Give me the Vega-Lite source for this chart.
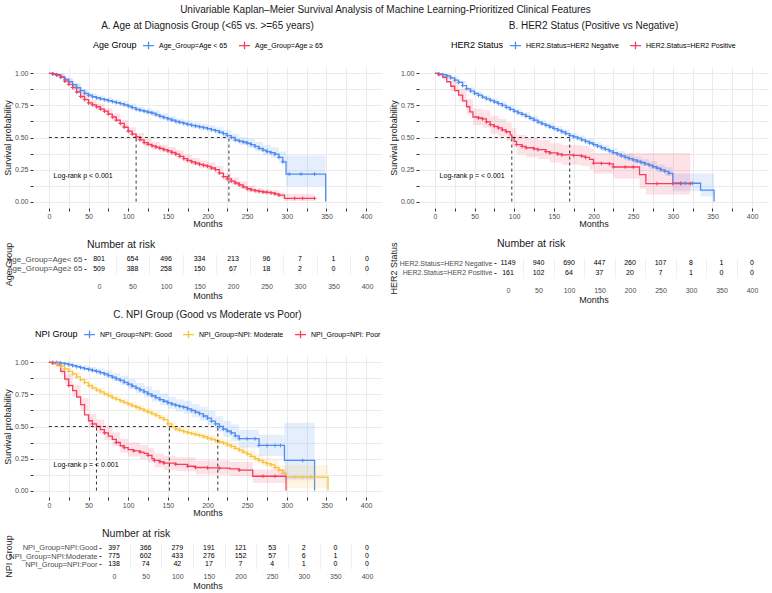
{
"$schema": "https://vega.github.io/schema/vega-lite/v6.json",
"padding": {"left": 3, "right": 2, "top": 5, "bottom": 2},
"title": {"text": "Univariable Kaplan–Meier Survival Analysis of Machine Learning-Prioritized Clinical Features", "fontSize": 10, "anchor": "middle", "offset": 6},
"datasets": {
"lineA": [
{"g":"Age_Group=Age < 65","t":0,"s":1,"c":0},{"g":"Age_Group=Age < 65","t":5,"s":0.995,"c":1},{"g":"Age_Group=Age < 65","t":10,"s":0.985,"c":1},{"g":"Age_Group=Age < 65","t":15,"s":0.972,"c":1},{"g":"Age_Group=Age < 65","t":20,"s":0.955,"c":1},{"g":"Age_Group=Age < 65","t":25,"s":0.935,"c":1},{"g":"Age_Group=Age < 65","t":30,"s":0.912,"c":1},{"g":"Age_Group=Age < 65","t":35,"s":0.888,"c":1},{"g":"Age_Group=Age < 65","t":40,"s":0.865,"c":1},{"g":"Age_Group=Age < 65","t":45,"s":0.845,"c":1},{"g":"Age_Group=Age < 65","t":50,"s":0.83,"c":1},{"g":"Age_Group=Age < 65","t":55,"s":0.818,"c":1},{"g":"Age_Group=Age < 65","t":60,"s":0.81,"c":1},{"g":"Age_Group=Age < 65","t":65,"s":0.802,"c":1},{"g":"Age_Group=Age < 65","t":70,"s":0.795,"c":1},{"g":"Age_Group=Age < 65","t":75,"s":0.787,"c":1},{"g":"Age_Group=Age < 65","t":80,"s":0.78,"c":1},{"g":"Age_Group=Age < 65","t":85,"s":0.772,"c":1},{"g":"Age_Group=Age < 65","t":90,"s":0.765,"c":1},{"g":"Age_Group=Age < 65","t":95,"s":0.755,"c":1},{"g":"Age_Group=Age < 65","t":100,"s":0.745,"c":1},{"g":"Age_Group=Age < 65","t":105,"s":0.733,"c":1},{"g":"Age_Group=Age < 65","t":110,"s":0.72,"c":1},{"g":"Age_Group=Age < 65","t":115,"s":0.712,"c":1},{"g":"Age_Group=Age < 65","t":120,"s":0.705,"c":1},{"g":"Age_Group=Age < 65","t":125,"s":0.697,"c":1},{"g":"Age_Group=Age < 65","t":130,"s":0.69,"c":1},{"g":"Age_Group=Age < 65","t":135,"s":0.677,"c":1},{"g":"Age_Group=Age < 65","t":140,"s":0.665,"c":1},{"g":"Age_Group=Age < 65","t":145,"s":0.655,"c":1},{"g":"Age_Group=Age < 65","t":150,"s":0.645,"c":1},{"g":"Age_Group=Age < 65","t":155,"s":0.635,"c":1},{"g":"Age_Group=Age < 65","t":160,"s":0.625,"c":1},{"g":"Age_Group=Age < 65","t":165,"s":0.618,"c":1},{"g":"Age_Group=Age < 65","t":170,"s":0.61,"c":1},{"g":"Age_Group=Age < 65","t":175,"s":0.602,"c":1},{"g":"Age_Group=Age < 65","t":180,"s":0.595,"c":1},{"g":"Age_Group=Age < 65","t":185,"s":0.589,"c":1},{"g":"Age_Group=Age < 65","t":190,"s":0.583,"c":1},{"g":"Age_Group=Age < 65","t":195,"s":0.577,"c":1},{"g":"Age_Group=Age < 65","t":200,"s":0.57,"c":1},{"g":"Age_Group=Age < 65","t":205,"s":0.562,"c":1},{"g":"Age_Group=Age < 65","t":210,"s":0.553,"c":1},{"g":"Age_Group=Age < 65","t":215,"s":0.542,"c":1},{"g":"Age_Group=Age < 65","t":220,"s":0.53,"c":1},{"g":"Age_Group=Age < 65","t":225,"s":0.515,"c":1},{"g":"Age_Group=Age < 65","t":230,"s":0.5,"c":1},{"g":"Age_Group=Age < 65","t":235,"s":0.48,"c":1},{"g":"Age_Group=Age < 65","t":240,"s":0.472,"c":1},{"g":"Age_Group=Age < 65","t":245,"s":0.465,"c":1},{"g":"Age_Group=Age < 65","t":250,"s":0.455,"c":1},{"g":"Age_Group=Age < 65","t":255,"s":0.445,"c":1},{"g":"Age_Group=Age < 65","t":260,"s":0.43,"c":1},{"g":"Age_Group=Age < 65","t":265,"s":0.415,"c":1},{"g":"Age_Group=Age < 65","t":270,"s":0.402,"c":1},{"g":"Age_Group=Age < 65","t":275,"s":0.39,"c":1},{"g":"Age_Group=Age < 65","t":280,"s":0.382,"c":1},{"g":"Age_Group=Age < 65","t":285,"s":0.37,"c":1},{"g":"Age_Group=Age < 65","t":290,"s":0.345,"c":1},{"g":"Age_Group=Age < 65","t":295,"s":0.31,"c":1},{"g":"Age_Group=Age < 65","t":299,"s":0.215,"c":0},{"g":"Age_Group=Age < 65","t":303,"s":0.215,"c":1},{"g":"Age_Group=Age < 65","t":318,"s":0.215,"c":1},{"g":"Age_Group=Age < 65","t":335,"s":0.215,"c":1},{"g":"Age_Group=Age < 65","t":349,"s":0,"c":0},
{"g":"Age_Group=Age ≥ 65","t":0,"s":1,"c":0},{"g":"Age_Group=Age ≥ 65","t":5,"s":0.997,"c":1},{"g":"Age_Group=Age ≥ 65","t":10,"s":0.99,"c":1},{"g":"Age_Group=Age ≥ 65","t":15,"s":0.97,"c":1},{"g":"Age_Group=Age ≥ 65","t":20,"s":0.94,"c":1},{"g":"Age_Group=Age ≥ 65","t":25,"s":0.915,"c":1},{"g":"Age_Group=Age ≥ 65","t":30,"s":0.89,"c":1},{"g":"Age_Group=Age ≥ 65","t":35,"s":0.855,"c":1},{"g":"Age_Group=Age ≥ 65","t":40,"s":0.82,"c":1},{"g":"Age_Group=Age ≥ 65","t":45,"s":0.795,"c":1},{"g":"Age_Group=Age ≥ 65","t":50,"s":0.77,"c":1},{"g":"Age_Group=Age ≥ 65","t":55,"s":0.755,"c":1},{"g":"Age_Group=Age ≥ 65","t":60,"s":0.74,"c":1},{"g":"Age_Group=Age ≥ 65","t":65,"s":0.722,"c":1},{"g":"Age_Group=Age ≥ 65","t":70,"s":0.705,"c":1},{"g":"Age_Group=Age ≥ 65","t":75,"s":0.683,"c":1},{"g":"Age_Group=Age ≥ 65","t":80,"s":0.66,"c":1},{"g":"Age_Group=Age ≥ 65","t":85,"s":0.635,"c":1},{"g":"Age_Group=Age ≥ 65","t":90,"s":0.61,"c":1},{"g":"Age_Group=Age ≥ 65","t":95,"s":0.58,"c":1},{"g":"Age_Group=Age ≥ 65","t":100,"s":0.55,"c":1},{"g":"Age_Group=Age ≥ 65","t":105,"s":0.527,"c":1},{"g":"Age_Group=Age ≥ 65","t":110,"s":0.505,"c":1},{"g":"Age_Group=Age ≥ 65","t":115,"s":0.482,"c":1},{"g":"Age_Group=Age ≥ 65","t":120,"s":0.46,"c":1},{"g":"Age_Group=Age ≥ 65","t":125,"s":0.447,"c":1},{"g":"Age_Group=Age ≥ 65","t":130,"s":0.435,"c":1},{"g":"Age_Group=Age ≥ 65","t":135,"s":0.425,"c":1},{"g":"Age_Group=Age ≥ 65","t":140,"s":0.415,"c":1},{"g":"Age_Group=Age ≥ 65","t":145,"s":0.405,"c":1},{"g":"Age_Group=Age ≥ 65","t":150,"s":0.395,"c":1},{"g":"Age_Group=Age ≥ 65","t":155,"s":0.383,"c":1},{"g":"Age_Group=Age ≥ 65","t":160,"s":0.37,"c":1},{"g":"Age_Group=Age ≥ 65","t":165,"s":0.352,"c":1},{"g":"Age_Group=Age ≥ 65","t":170,"s":0.335,"c":1},{"g":"Age_Group=Age ≥ 65","t":175,"s":0.322,"c":1},{"g":"Age_Group=Age ≥ 65","t":180,"s":0.31,"c":1},{"g":"Age_Group=Age ≥ 65","t":185,"s":0.3,"c":1},{"g":"Age_Group=Age ≥ 65","t":190,"s":0.29,"c":1},{"g":"Age_Group=Age ≥ 65","t":195,"s":0.283,"c":1},{"g":"Age_Group=Age ≥ 65","t":200,"s":0.275,"c":1},{"g":"Age_Group=Age ≥ 65","t":205,"s":0.262,"c":1},{"g":"Age_Group=Age ≥ 65","t":210,"s":0.25,"c":1},{"g":"Age_Group=Age ≥ 65","t":215,"s":0.222,"c":1},{"g":"Age_Group=Age ≥ 65","t":220,"s":0.195,"c":1},{"g":"Age_Group=Age ≥ 65","t":225,"s":0.177,"c":1},{"g":"Age_Group=Age ≥ 65","t":230,"s":0.16,"c":1},{"g":"Age_Group=Age ≥ 65","t":235,"s":0.145,"c":1},{"g":"Age_Group=Age ≥ 65","t":240,"s":0.13,"c":1},{"g":"Age_Group=Age ≥ 65","t":245,"s":0.115,"c":1},{"g":"Age_Group=Age ≥ 65","t":250,"s":0.1,"c":1},{"g":"Age_Group=Age ≥ 65","t":255,"s":0.092,"c":1},{"g":"Age_Group=Age ≥ 65","t":260,"s":0.085,"c":1},{"g":"Age_Group=Age ≥ 65","t":265,"s":0.08,"c":1},{"g":"Age_Group=Age ≥ 65","t":270,"s":0.075,"c":1},{"g":"Age_Group=Age ≥ 65","t":275,"s":0.072,"c":1},{"g":"Age_Group=Age ≥ 65","t":280,"s":0.068,"c":1},{"g":"Age_Group=Age ≥ 65","t":285,"s":0.06,"c":1},{"g":"Age_Group=Age ≥ 65","t":290,"s":0.05,"c":1},{"g":"Age_Group=Age ≥ 65","t":297,"s":0.025,"c":0},{"g":"Age_Group=Age ≥ 65","t":310,"s":0.025,"c":1},{"g":"Age_Group=Age ≥ 65","t":320,"s":0.025,"c":1},{"g":"Age_Group=Age ≥ 65","t":335,"s":0.025,"c":1}
],
"bandA": [
{"g":"Age_Group=Age < 65","t":0,"lo":1,"hi":1},{"g":"Age_Group=Age < 65","t":10,"lo":0.977,"hi":0.993},{"g":"Age_Group=Age < 65","t":20,"lo":0.943,"hi":0.967},{"g":"Age_Group=Age < 65","t":30,"lo":0.897,"hi":0.927},{"g":"Age_Group=Age < 65","t":40,"lo":0.843,"hi":0.877},{"g":"Age_Group=Age < 65","t":50,"lo":0.812,"hi":0.848},{"g":"Age_Group=Age < 65","t":60,"lo":0.792,"hi":0.828},{"g":"Age_Group=Age < 65","t":70,"lo":0.776,"hi":0.814},{"g":"Age_Group=Age < 65","t":80,"lo":0.761,"hi":0.799},{"g":"Age_Group=Age < 65","t":90,"lo":0.745,"hi":0.785},{"g":"Age_Group=Age < 65","t":100,"lo":0.725,"hi":0.765},{"g":"Age_Group=Age < 65","t":110,"lo":0.699,"hi":0.741},{"g":"Age_Group=Age < 65","t":120,"lo":0.684,"hi":0.726},{"g":"Age_Group=Age < 65","t":130,"lo":0.668,"hi":0.712},{"g":"Age_Group=Age < 65","t":140,"lo":0.643,"hi":0.687},{"g":"Age_Group=Age < 65","t":150,"lo":0.622,"hi":0.668},{"g":"Age_Group=Age < 65","t":160,"lo":0.602,"hi":0.648},{"g":"Age_Group=Age < 65","t":170,"lo":0.586,"hi":0.634},{"g":"Age_Group=Age < 65","t":180,"lo":0.571,"hi":0.619},{"g":"Age_Group=Age < 65","t":190,"lo":0.558,"hi":0.608},{"g":"Age_Group=Age < 65","t":200,"lo":0.544,"hi":0.596},{"g":"Age_Group=Age < 65","t":210,"lo":0.526,"hi":0.58},{"g":"Age_Group=Age < 65","t":220,"lo":0.502,"hi":0.558},{"g":"Age_Group=Age < 65","t":230,"lo":0.47,"hi":0.53},{"g":"Age_Group=Age < 65","t":240,"lo":0.441,"hi":0.503},{"g":"Age_Group=Age < 65","t":250,"lo":0.42,"hi":0.49},{"g":"Age_Group=Age < 65","t":260,"lo":0.393,"hi":0.467},{"g":"Age_Group=Age < 65","t":270,"lo":0.362,"hi":0.442},{"g":"Age_Group=Age < 65","t":280,"lo":0.34,"hi":0.424},{"g":"Age_Group=Age < 65","t":290,"lo":0.3,"hi":0.39},{"g":"Age_Group=Age < 65","t":299,"lo":0.12,"hi":0.36},{"g":"Age_Group=Age < 65","t":349,"lo":0,"hi":0},
{"g":"Age_Group=Age ≥ 65","t":0,"lo":1,"hi":1},{"g":"Age_Group=Age ≥ 65","t":10,"lo":0.98,"hi":1},{"g":"Age_Group=Age ≥ 65","t":20,"lo":0.925,"hi":0.955},{"g":"Age_Group=Age ≥ 65","t":30,"lo":0.87,"hi":0.91},{"g":"Age_Group=Age ≥ 65","t":40,"lo":0.798,"hi":0.842},{"g":"Age_Group=Age ≥ 65","t":50,"lo":0.746,"hi":0.794},{"g":"Age_Group=Age ≥ 65","t":60,"lo":0.715,"hi":0.765},{"g":"Age_Group=Age ≥ 65","t":70,"lo":0.679,"hi":0.731},{"g":"Age_Group=Age ≥ 65","t":80,"lo":0.633,"hi":0.687},{"g":"Age_Group=Age ≥ 65","t":90,"lo":0.582,"hi":0.638},{"g":"Age_Group=Age ≥ 65","t":100,"lo":0.521,"hi":0.579},{"g":"Age_Group=Age ≥ 65","t":110,"lo":0.475,"hi":0.535},{"g":"Age_Group=Age ≥ 65","t":120,"lo":0.43,"hi":0.49},{"g":"Age_Group=Age ≥ 65","t":130,"lo":0.405,"hi":0.465},{"g":"Age_Group=Age ≥ 65","t":140,"lo":0.385,"hi":0.445},{"g":"Age_Group=Age ≥ 65","t":150,"lo":0.365,"hi":0.425},{"g":"Age_Group=Age ≥ 65","t":160,"lo":0.34,"hi":0.4},{"g":"Age_Group=Age ≥ 65","t":170,"lo":0.305,"hi":0.365},{"g":"Age_Group=Age ≥ 65","t":180,"lo":0.28,"hi":0.34},{"g":"Age_Group=Age ≥ 65","t":190,"lo":0.26,"hi":0.32},{"g":"Age_Group=Age ≥ 65","t":200,"lo":0.245,"hi":0.305},{"g":"Age_Group=Age ≥ 65","t":210,"lo":0.22,"hi":0.28},{"g":"Age_Group=Age ≥ 65","t":220,"lo":0.165,"hi":0.225},{"g":"Age_Group=Age ≥ 65","t":230,"lo":0.132,"hi":0.188},{"g":"Age_Group=Age ≥ 65","t":240,"lo":0.103,"hi":0.157},{"g":"Age_Group=Age ≥ 65","t":250,"lo":0.075,"hi":0.125},{"g":"Age_Group=Age ≥ 65","t":260,"lo":0.063,"hi":0.107},{"g":"Age_Group=Age ≥ 65","t":270,"lo":0.055,"hi":0.095},{"g":"Age_Group=Age ≥ 65","t":280,"lo":0.048,"hi":0.088},{"g":"Age_Group=Age ≥ 65","t":290,"lo":0.03,"hi":0.07},{"g":"Age_Group=Age ≥ 65","t":297,"lo":0.005,"hi":0.06},{"g":"Age_Group=Age ≥ 65","t":335,"lo":0.005,"hi":0.06}
],
"medA": [{"t":0,"t2":227,"s":0.5,"s2":0.5},{"t":110,"t2":110,"s":0,"s2":0.5},{"t":227,"t2":227,"s":0,"s2":0.5}],
"lineB": [
{"g":"HER2.Status=HER2 Negative","t":0,"s":1,"c":0},{"g":"HER2.Status=HER2 Negative","t":5,"s":0.997,"c":1},{"g":"HER2.Status=HER2 Negative","t":10,"s":0.99,"c":1},{"g":"HER2.Status=HER2 Negative","t":15,"s":0.98,"c":1},{"g":"HER2.Status=HER2 Negative","t":20,"s":0.965,"c":1},{"g":"HER2.Status=HER2 Negative","t":25,"s":0.948,"c":1},{"g":"HER2.Status=HER2 Negative","t":30,"s":0.93,"c":1},{"g":"HER2.Status=HER2 Negative","t":35,"s":0.905,"c":1},{"g":"HER2.Status=HER2 Negative","t":40,"s":0.88,"c":1},{"g":"HER2.Status=HER2 Negative","t":45,"s":0.862,"c":1},{"g":"HER2.Status=HER2 Negative","t":50,"s":0.845,"c":1},{"g":"HER2.Status=HER2 Negative","t":55,"s":0.83,"c":1},{"g":"HER2.Status=HER2 Negative","t":60,"s":0.815,"c":1},{"g":"HER2.Status=HER2 Negative","t":65,"s":0.802,"c":1},{"g":"HER2.Status=HER2 Negative","t":70,"s":0.79,"c":1},{"g":"HER2.Status=HER2 Negative","t":75,"s":0.777,"c":1},{"g":"HER2.Status=HER2 Negative","t":80,"s":0.765,"c":1},{"g":"HER2.Status=HER2 Negative","t":85,"s":0.75,"c":1},{"g":"HER2.Status=HER2 Negative","t":90,"s":0.735,"c":1},{"g":"HER2.Status=HER2 Negative","t":95,"s":0.72,"c":1},{"g":"HER2.Status=HER2 Negative","t":100,"s":0.705,"c":1},{"g":"HER2.Status=HER2 Negative","t":105,"s":0.692,"c":1},{"g":"HER2.Status=HER2 Negative","t":110,"s":0.68,"c":1},{"g":"HER2.Status=HER2 Negative","t":115,"s":0.665,"c":1},{"g":"HER2.Status=HER2 Negative","t":120,"s":0.65,"c":1},{"g":"HER2.Status=HER2 Negative","t":125,"s":0.635,"c":1},{"g":"HER2.Status=HER2 Negative","t":130,"s":0.62,"c":1},{"g":"HER2.Status=HER2 Negative","t":135,"s":0.607,"c":1},{"g":"HER2.Status=HER2 Negative","t":140,"s":0.595,"c":1},{"g":"HER2.Status=HER2 Negative","t":145,"s":0.582,"c":1},{"g":"HER2.Status=HER2 Negative","t":150,"s":0.57,"c":1},{"g":"HER2.Status=HER2 Negative","t":155,"s":0.557,"c":1},{"g":"HER2.Status=HER2 Negative","t":160,"s":0.545,"c":1},{"g":"HER2.Status=HER2 Negative","t":165,"s":0.53,"c":1},{"g":"HER2.Status=HER2 Negative","t":170,"s":0.515,"c":1},{"g":"HER2.Status=HER2 Negative","t":175,"s":0.505,"c":1},{"g":"HER2.Status=HER2 Negative","t":180,"s":0.495,"c":1},{"g":"HER2.Status=HER2 Negative","t":185,"s":0.482,"c":1},{"g":"HER2.Status=HER2 Negative","t":190,"s":0.47,"c":1},{"g":"HER2.Status=HER2 Negative","t":195,"s":0.457,"c":1},{"g":"HER2.Status=HER2 Negative","t":200,"s":0.445,"c":1},{"g":"HER2.Status=HER2 Negative","t":205,"s":0.432,"c":1},{"g":"HER2.Status=HER2 Negative","t":210,"s":0.42,"c":1},{"g":"HER2.Status=HER2 Negative","t":215,"s":0.407,"c":1},{"g":"HER2.Status=HER2 Negative","t":220,"s":0.395,"c":1},{"g":"HER2.Status=HER2 Negative","t":225,"s":0.382,"c":1},{"g":"HER2.Status=HER2 Negative","t":230,"s":0.37,"c":1},{"g":"HER2.Status=HER2 Negative","t":235,"s":0.357,"c":1},{"g":"HER2.Status=HER2 Negative","t":240,"s":0.345,"c":1},{"g":"HER2.Status=HER2 Negative","t":245,"s":0.335,"c":1},{"g":"HER2.Status=HER2 Negative","t":250,"s":0.325,"c":1},{"g":"HER2.Status=HER2 Negative","t":255,"s":0.315,"c":1},{"g":"HER2.Status=HER2 Negative","t":260,"s":0.305,"c":1},{"g":"HER2.Status=HER2 Negative","t":265,"s":0.295,"c":1},{"g":"HER2.Status=HER2 Negative","t":270,"s":0.285,"c":1},{"g":"HER2.Status=HER2 Negative","t":275,"s":0.272,"c":1},{"g":"HER2.Status=HER2 Negative","t":280,"s":0.26,"c":1},{"g":"HER2.Status=HER2 Negative","t":285,"s":0.247,"c":1},{"g":"HER2.Status=HER2 Negative","t":290,"s":0.235,"c":1},{"g":"HER2.Status=HER2 Negative","t":295,"s":0.22,"c":1},{"g":"HER2.Status=HER2 Negative","t":300,"s":0.145,"c":0},{"g":"HER2.Status=HER2 Negative","t":310,"s":0.143,"c":1},{"g":"HER2.Status=HER2 Negative","t":316,"s":0.143,"c":1},{"g":"HER2.Status=HER2 Negative","t":325,"s":0.143,"c":1},{"g":"HER2.Status=HER2 Negative","t":335,"s":0.09,"c":0},{"g":"HER2.Status=HER2 Negative","t":352,"s":0,"c":0},
{"g":"HER2.Status=HER2 Positive","t":0,"s":1,"c":0},{"g":"HER2.Status=HER2 Positive","t":5,"s":0.99,"c":1},{"g":"HER2.Status=HER2 Positive","t":10,"s":0.97,"c":0},{"g":"HER2.Status=HER2 Positive","t":15,"s":0.935,"c":0},{"g":"HER2.Status=HER2 Positive","t":20,"s":0.9,"c":0},{"g":"HER2.Status=HER2 Positive","t":25,"s":0.865,"c":0},{"g":"HER2.Status=HER2 Positive","t":30,"s":0.83,"c":0},{"g":"HER2.Status=HER2 Positive","t":35,"s":0.785,"c":0},{"g":"HER2.Status=HER2 Positive","t":40,"s":0.74,"c":0},{"g":"HER2.Status=HER2 Positive","t":44,"s":0.7,"c":0},{"g":"HER2.Status=HER2 Positive","t":48,"s":0.66,"c":0},{"g":"HER2.Status=HER2 Positive","t":55,"s":0.652,"c":1},{"g":"HER2.Status=HER2 Positive","t":60,"s":0.645,"c":1},{"g":"HER2.Status=HER2 Positive","t":65,"s":0.622,"c":1},{"g":"HER2.Status=HER2 Positive","t":70,"s":0.6,"c":1},{"g":"HER2.Status=HER2 Positive","t":75,"s":0.587,"c":1},{"g":"HER2.Status=HER2 Positive","t":80,"s":0.575,"c":1},{"g":"HER2.Status=HER2 Positive","t":85,"s":0.56,"c":1},{"g":"HER2.Status=HER2 Positive","t":90,"s":0.545,"c":1},{"g":"HER2.Status=HER2 Positive","t":95,"s":0.52,"c":0},{"g":"HER2.Status=HER2 Positive","t":97,"s":0.5,"c":0},{"g":"HER2.Status=HER2 Positive","t":100,"s":0.47,"c":0},{"g":"HER2.Status=HER2 Positive","t":103,"s":0.445,"c":1},{"g":"HER2.Status=HER2 Positive","t":110,"s":0.43,"c":1},{"g":"HER2.Status=HER2 Positive","t":115,"s":0.42,"c":1},{"g":"HER2.Status=HER2 Positive","t":125,"s":0.412,"c":1},{"g":"HER2.Status=HER2 Positive","t":130,"s":0.405,"c":1},{"g":"HER2.Status=HER2 Positive","t":140,"s":0.39,"c":1},{"g":"HER2.Status=HER2 Positive","t":145,"s":0.38,"c":1},{"g":"HER2.Status=HER2 Positive","t":155,"s":0.37,"c":1},{"g":"HER2.Status=HER2 Positive","t":160,"s":0.365,"c":1},{"g":"HER2.Status=HER2 Positive","t":175,"s":0.36,"c":1},{"g":"HER2.Status=HER2 Positive","t":185,"s":0.355,"c":1},{"g":"HER2.Status=HER2 Positive","t":190,"s":0.345,"c":1},{"g":"HER2.Status=HER2 Positive","t":195,"s":0.33,"c":0},{"g":"HER2.Status=HER2 Positive","t":200,"s":0.3,"c":1},{"g":"HER2.Status=HER2 Positive","t":210,"s":0.298,"c":1},{"g":"HER2.Status=HER2 Positive","t":220,"s":0.295,"c":1},{"g":"HER2.Status=HER2 Positive","t":225,"s":0.27,"c":1},{"g":"HER2.Status=HER2 Positive","t":240,"s":0.27,"c":1},{"g":"HER2.Status=HER2 Positive","t":250,"s":0.27,"c":1},{"g":"HER2.Status=HER2 Positive","t":258,"s":0.21,"c":0},{"g":"HER2.Status=HER2 Positive","t":266,"s":0.14,"c":0},{"g":"HER2.Status=HER2 Positive","t":280,"s":0.14,"c":1},{"g":"HER2.Status=HER2 Positive","t":300,"s":0.14,"c":1},{"g":"HER2.Status=HER2 Positive","t":310,"s":0.14,"c":1},{"g":"HER2.Status=HER2 Positive","t":322,"s":0.14,"c":1}
],
"bandB": [
{"g":"HER2.Status=HER2 Negative","t":0,"lo":1,"hi":1},{"g":"HER2.Status=HER2 Negative","t":10,"lo":0.985,"hi":0.995},{"g":"HER2.Status=HER2 Negative","t":20,"lo":0.957,"hi":0.973},{"g":"HER2.Status=HER2 Negative","t":30,"lo":0.92,"hi":0.94},{"g":"HER2.Status=HER2 Negative","t":40,"lo":0.868,"hi":0.892},{"g":"HER2.Status=HER2 Negative","t":50,"lo":0.832,"hi":0.858},{"g":"HER2.Status=HER2 Negative","t":60,"lo":0.801,"hi":0.829},{"g":"HER2.Status=HER2 Negative","t":70,"lo":0.775,"hi":0.805},{"g":"HER2.Status=HER2 Negative","t":80,"lo":0.75,"hi":0.78},{"g":"HER2.Status=HER2 Negative","t":90,"lo":0.719,"hi":0.751},{"g":"HER2.Status=HER2 Negative","t":100,"lo":0.689,"hi":0.721},{"g":"HER2.Status=HER2 Negative","t":110,"lo":0.663,"hi":0.697},{"g":"HER2.Status=HER2 Negative","t":120,"lo":0.633,"hi":0.667},{"g":"HER2.Status=HER2 Negative","t":130,"lo":0.602,"hi":0.638},{"g":"HER2.Status=HER2 Negative","t":140,"lo":0.577,"hi":0.613},{"g":"HER2.Status=HER2 Negative","t":150,"lo":0.551,"hi":0.589},{"g":"HER2.Status=HER2 Negative","t":160,"lo":0.526,"hi":0.564},{"g":"HER2.Status=HER2 Negative","t":170,"lo":0.495,"hi":0.535},{"g":"HER2.Status=HER2 Negative","t":180,"lo":0.475,"hi":0.515},{"g":"HER2.Status=HER2 Negative","t":190,"lo":0.449,"hi":0.491},{"g":"HER2.Status=HER2 Negative","t":200,"lo":0.423,"hi":0.467},{"g":"HER2.Status=HER2 Negative","t":210,"lo":0.397,"hi":0.443},{"g":"HER2.Status=HER2 Negative","t":220,"lo":0.371,"hi":0.419},{"g":"HER2.Status=HER2 Negative","t":230,"lo":0.345,"hi":0.395},{"g":"HER2.Status=HER2 Negative","t":240,"lo":0.319,"hi":0.371},{"g":"HER2.Status=HER2 Negative","t":250,"lo":0.298,"hi":0.352},{"g":"HER2.Status=HER2 Negative","t":260,"lo":0.277,"hi":0.333},{"g":"HER2.Status=HER2 Negative","t":270,"lo":0.255,"hi":0.315},{"g":"HER2.Status=HER2 Negative","t":280,"lo":0.228,"hi":0.292},{"g":"HER2.Status=HER2 Negative","t":290,"lo":0.2,"hi":0.27},{"g":"HER2.Status=HER2 Negative","t":300,"lo":0.08,"hi":0.22},{"g":"HER2.Status=HER2 Negative","t":335,"lo":0.04,"hi":0.22},{"g":"HER2.Status=HER2 Negative","t":352,"lo":0,"hi":0},
{"g":"HER2.Status=HER2 Positive","t":0,"lo":1,"hi":1},{"g":"HER2.Status=HER2 Positive","t":10,"lo":0.95,"hi":0.99},{"g":"HER2.Status=HER2 Positive","t":20,"lo":0.86,"hi":0.94},{"g":"HER2.Status=HER2 Positive","t":30,"lo":0.78,"hi":0.88},{"g":"HER2.Status=HER2 Positive","t":40,"lo":0.68,"hi":0.8},{"g":"HER2.Status=HER2 Positive","t":48,"lo":0.595,"hi":0.725},{"g":"HER2.Status=HER2 Positive","t":60,"lo":0.577,"hi":0.713},{"g":"HER2.Status=HER2 Positive","t":70,"lo":0.53,"hi":0.67},{"g":"HER2.Status=HER2 Positive","t":80,"lo":0.505,"hi":0.645},{"g":"HER2.Status=HER2 Positive","t":90,"lo":0.473,"hi":0.617},{"g":"HER2.Status=HER2 Positive","t":97,"lo":0.425,"hi":0.575},{"g":"HER2.Status=HER2 Positive","t":103,"lo":0.37,"hi":0.52},{"g":"HER2.Status=HER2 Positive","t":115,"lo":0.345,"hi":0.495},{"g":"HER2.Status=HER2 Positive","t":130,"lo":0.33,"hi":0.48},{"g":"HER2.Status=HER2 Positive","t":145,"lo":0.304,"hi":0.456},{"g":"HER2.Status=HER2 Positive","t":160,"lo":0.288,"hi":0.442},{"g":"HER2.Status=HER2 Positive","t":185,"lo":0.277,"hi":0.433},{"g":"HER2.Status=HER2 Positive","t":195,"lo":0.25,"hi":0.41},{"g":"HER2.Status=HER2 Positive","t":200,"lo":0.22,"hi":0.38},{"g":"HER2.Status=HER2 Positive","t":225,"lo":0.18,"hi":0.38},{"g":"HER2.Status=HER2 Positive","t":258,"lo":0.1,"hi":0.38},{"g":"HER2.Status=HER2 Positive","t":266,"lo":0.055,"hi":0.38},{"g":"HER2.Status=HER2 Positive","t":322,"lo":0.055,"hi":0.38}
],
"medB": [{"t":0,"t2":170,"s":0.5,"s2":0.5},{"t":97,"t2":97,"s":0,"s2":0.5},{"t":170,"t2":170,"s":0,"s2":0.5}],
"lineC": [
{"g":"NPI_Group=NPI: Good","t":0,"s":1,"c":0},{"g":"NPI_Group=NPI: Good","t":5,"s":1,"c":1},{"g":"NPI_Group=NPI: Good","t":10,"s":1,"c":1},{"g":"NPI_Group=NPI: Good","t":15,"s":0.995,"c":1},{"g":"NPI_Group=NPI: Good","t":20,"s":0.99,"c":1},{"g":"NPI_Group=NPI: Good","t":25,"s":0.982,"c":1},{"g":"NPI_Group=NPI: Good","t":30,"s":0.975,"c":1},{"g":"NPI_Group=NPI: Good","t":35,"s":0.967,"c":1},{"g":"NPI_Group=NPI: Good","t":40,"s":0.96,"c":1},{"g":"NPI_Group=NPI: Good","t":45,"s":0.952,"c":1},{"g":"NPI_Group=NPI: Good","t":50,"s":0.945,"c":1},{"g":"NPI_Group=NPI: Good","t":55,"s":0.937,"c":1},{"g":"NPI_Group=NPI: Good","t":60,"s":0.93,"c":1},{"g":"NPI_Group=NPI: Good","t":65,"s":0.92,"c":1},{"g":"NPI_Group=NPI: Good","t":70,"s":0.91,"c":1},{"g":"NPI_Group=NPI: Good","t":75,"s":0.897,"c":1},{"g":"NPI_Group=NPI: Good","t":80,"s":0.885,"c":1},{"g":"NPI_Group=NPI: Good","t":85,"s":0.872,"c":1},{"g":"NPI_Group=NPI: Good","t":90,"s":0.86,"c":1},{"g":"NPI_Group=NPI: Good","t":95,"s":0.845,"c":1},{"g":"NPI_Group=NPI: Good","t":100,"s":0.83,"c":1},{"g":"NPI_Group=NPI: Good","t":105,"s":0.815,"c":1},{"g":"NPI_Group=NPI: Good","t":110,"s":0.8,"c":1},{"g":"NPI_Group=NPI: Good","t":115,"s":0.785,"c":1},{"g":"NPI_Group=NPI: Good","t":120,"s":0.77,"c":1},{"g":"NPI_Group=NPI: Good","t":125,"s":0.755,"c":1},{"g":"NPI_Group=NPI: Good","t":130,"s":0.74,"c":1},{"g":"NPI_Group=NPI: Good","t":135,"s":0.725,"c":1},{"g":"NPI_Group=NPI: Good","t":140,"s":0.71,"c":1},{"g":"NPI_Group=NPI: Good","t":145,"s":0.697,"c":1},{"g":"NPI_Group=NPI: Good","t":150,"s":0.685,"c":1},{"g":"NPI_Group=NPI: Good","t":155,"s":0.675,"c":1},{"g":"NPI_Group=NPI: Good","t":160,"s":0.665,"c":1},{"g":"NPI_Group=NPI: Good","t":165,"s":0.657,"c":1},{"g":"NPI_Group=NPI: Good","t":170,"s":0.65,"c":1},{"g":"NPI_Group=NPI: Good","t":175,"s":0.637,"c":1},{"g":"NPI_Group=NPI: Good","t":180,"s":0.625,"c":1},{"g":"NPI_Group=NPI: Good","t":185,"s":0.612,"c":1},{"g":"NPI_Group=NPI: Good","t":190,"s":0.6,"c":1},{"g":"NPI_Group=NPI: Good","t":195,"s":0.582,"c":1},{"g":"NPI_Group=NPI: Good","t":200,"s":0.565,"c":1},{"g":"NPI_Group=NPI: Good","t":205,"s":0.542,"c":1},{"g":"NPI_Group=NPI: Good","t":210,"s":0.52,"c":1},{"g":"NPI_Group=NPI: Good","t":215,"s":0.5,"c":1},{"g":"NPI_Group=NPI: Good","t":220,"s":0.48,"c":1},{"g":"NPI_Group=NPI: Good","t":225,"s":0.465,"c":1},{"g":"NPI_Group=NPI: Good","t":230,"s":0.45,"c":1},{"g":"NPI_Group=NPI: Good","t":235,"s":0.427,"c":1},{"g":"NPI_Group=NPI: Good","t":240,"s":0.405,"c":1},{"g":"NPI_Group=NPI: Good","t":250,"s":0.405,"c":1},{"g":"NPI_Group=NPI: Good","t":260,"s":0.405,"c":1},{"g":"NPI_Group=NPI: Good","t":265,"s":0.352,"c":1},{"g":"NPI_Group=NPI: Good","t":275,"s":0.352,"c":1},{"g":"NPI_Group=NPI: Good","t":285,"s":0.352,"c":1},{"g":"NPI_Group=NPI: Good","t":292,"s":0.352,"c":1},{"g":"NPI_Group=NPI: Good","t":297,"s":0.235,"c":0},{"g":"NPI_Group=NPI: Good","t":320,"s":0.235,"c":1},{"g":"NPI_Group=NPI: Good","t":335,"s":0,"c":0},
{"g":"NPI_Group=NPI: Moderate","t":0,"s":1,"c":0},{"g":"NPI_Group=NPI: Moderate","t":5,"s":0.995,"c":1},{"g":"NPI_Group=NPI: Moderate","t":10,"s":0.985,"c":1},{"g":"NPI_Group=NPI: Moderate","t":15,"s":0.97,"c":1},{"g":"NPI_Group=NPI: Moderate","t":20,"s":0.95,"c":1},{"g":"NPI_Group=NPI: Moderate","t":25,"s":0.93,"c":1},{"g":"NPI_Group=NPI: Moderate","t":30,"s":0.91,"c":1},{"g":"NPI_Group=NPI: Moderate","t":35,"s":0.887,"c":1},{"g":"NPI_Group=NPI: Moderate","t":40,"s":0.865,"c":1},{"g":"NPI_Group=NPI: Moderate","t":45,"s":0.842,"c":1},{"g":"NPI_Group=NPI: Moderate","t":50,"s":0.82,"c":1},{"g":"NPI_Group=NPI: Moderate","t":55,"s":0.802,"c":1},{"g":"NPI_Group=NPI: Moderate","t":60,"s":0.785,"c":1},{"g":"NPI_Group=NPI: Moderate","t":65,"s":0.77,"c":1},{"g":"NPI_Group=NPI: Moderate","t":70,"s":0.755,"c":1},{"g":"NPI_Group=NPI: Moderate","t":75,"s":0.74,"c":1},{"g":"NPI_Group=NPI: Moderate","t":80,"s":0.725,"c":1},{"g":"NPI_Group=NPI: Moderate","t":85,"s":0.712,"c":1},{"g":"NPI_Group=NPI: Moderate","t":90,"s":0.7,"c":1},{"g":"NPI_Group=NPI: Moderate","t":95,"s":0.687,"c":1},{"g":"NPI_Group=NPI: Moderate","t":100,"s":0.675,"c":1},{"g":"NPI_Group=NPI: Moderate","t":105,"s":0.662,"c":1},{"g":"NPI_Group=NPI: Moderate","t":110,"s":0.65,"c":1},{"g":"NPI_Group=NPI: Moderate","t":115,"s":0.637,"c":1},{"g":"NPI_Group=NPI: Moderate","t":120,"s":0.625,"c":1},{"g":"NPI_Group=NPI: Moderate","t":125,"s":0.612,"c":1},{"g":"NPI_Group=NPI: Moderate","t":130,"s":0.6,"c":1},{"g":"NPI_Group=NPI: Moderate","t":135,"s":0.585,"c":1},{"g":"NPI_Group=NPI: Moderate","t":140,"s":0.57,"c":1},{"g":"NPI_Group=NPI: Moderate","t":145,"s":0.553,"c":1},{"g":"NPI_Group=NPI: Moderate","t":150,"s":0.52,"c":1},{"g":"NPI_Group=NPI: Moderate","t":155,"s":0.497,"c":1},{"g":"NPI_Group=NPI: Moderate","t":160,"s":0.48,"c":1},{"g":"NPI_Group=NPI: Moderate","t":165,"s":0.47,"c":1},{"g":"NPI_Group=NPI: Moderate","t":170,"s":0.46,"c":1},{"g":"NPI_Group=NPI: Moderate","t":175,"s":0.452,"c":1},{"g":"NPI_Group=NPI: Moderate","t":180,"s":0.445,"c":1},{"g":"NPI_Group=NPI: Moderate","t":185,"s":0.437,"c":1},{"g":"NPI_Group=NPI: Moderate","t":190,"s":0.43,"c":1},{"g":"NPI_Group=NPI: Moderate","t":195,"s":0.42,"c":1},{"g":"NPI_Group=NPI: Moderate","t":200,"s":0.41,"c":1},{"g":"NPI_Group=NPI: Moderate","t":205,"s":0.4,"c":1},{"g":"NPI_Group=NPI: Moderate","t":210,"s":0.39,"c":1},{"g":"NPI_Group=NPI: Moderate","t":215,"s":0.38,"c":1},{"g":"NPI_Group=NPI: Moderate","t":220,"s":0.37,"c":1},{"g":"NPI_Group=NPI: Moderate","t":225,"s":0.357,"c":1},{"g":"NPI_Group=NPI: Moderate","t":230,"s":0.345,"c":1},{"g":"NPI_Group=NPI: Moderate","t":235,"s":0.33,"c":1},{"g":"NPI_Group=NPI: Moderate","t":240,"s":0.315,"c":1},{"g":"NPI_Group=NPI: Moderate","t":245,"s":0.3,"c":1},{"g":"NPI_Group=NPI: Moderate","t":250,"s":0.285,"c":1},{"g":"NPI_Group=NPI: Moderate","t":255,"s":0.267,"c":1},{"g":"NPI_Group=NPI: Moderate","t":260,"s":0.25,"c":1},{"g":"NPI_Group=NPI: Moderate","t":265,"s":0.235,"c":1},{"g":"NPI_Group=NPI: Moderate","t":270,"s":0.22,"c":1},{"g":"NPI_Group=NPI: Moderate","t":275,"s":0.21,"c":1},{"g":"NPI_Group=NPI: Moderate","t":280,"s":0.2,"c":1},{"g":"NPI_Group=NPI: Moderate","t":285,"s":0.18,"c":1},{"g":"NPI_Group=NPI: Moderate","t":290,"s":0.16,"c":1},{"g":"NPI_Group=NPI: Moderate","t":295,"s":0.135,"c":1},{"g":"NPI_Group=NPI: Moderate","t":299,"s":0.105,"c":0},{"g":"NPI_Group=NPI: Moderate","t":310,"s":0.105,"c":1},{"g":"NPI_Group=NPI: Moderate","t":320,"s":0.105,"c":1},{"g":"NPI_Group=NPI: Moderate","t":330,"s":0.105,"c":1},{"g":"NPI_Group=NPI: Moderate","t":352,"s":0,"c":0},
{"g":"NPI_Group=NPI: Poor","t":0,"s":1,"c":0},{"g":"NPI_Group=NPI: Poor","t":5,"s":0.995,"c":1},{"g":"NPI_Group=NPI: Poor","t":10,"s":0.98,"c":0},{"g":"NPI_Group=NPI: Poor","t":15,"s":0.93,"c":0},{"g":"NPI_Group=NPI: Poor","t":20,"s":0.87,"c":0},{"g":"NPI_Group=NPI: Poor","t":25,"s":0.82,"c":1},{"g":"NPI_Group=NPI: Poor","t":30,"s":0.78,"c":0},{"g":"NPI_Group=NPI: Poor","t":35,"s":0.73,"c":0},{"g":"NPI_Group=NPI: Poor","t":40,"s":0.67,"c":0},{"g":"NPI_Group=NPI: Poor","t":45,"s":0.59,"c":0},{"g":"NPI_Group=NPI: Poor","t":50,"s":0.545,"c":0},{"g":"NPI_Group=NPI: Poor","t":55,"s":0.52,"c":1},{"g":"NPI_Group=NPI: Poor","t":60,"s":0.5,"c":0},{"g":"NPI_Group=NPI: Poor","t":65,"s":0.475,"c":0},{"g":"NPI_Group=NPI: Poor","t":70,"s":0.45,"c":1},{"g":"NPI_Group=NPI: Poor","t":75,"s":0.425,"c":0},{"g":"NPI_Group=NPI: Poor","t":80,"s":0.4,"c":0},{"g":"NPI_Group=NPI: Poor","t":85,"s":0.375,"c":1},{"g":"NPI_Group=NPI: Poor","t":90,"s":0.35,"c":0},{"g":"NPI_Group=NPI: Poor","t":95,"s":0.335,"c":1},{"g":"NPI_Group=NPI: Poor","t":100,"s":0.32,"c":0},{"g":"NPI_Group=NPI: Poor","t":107,"s":0.31,"c":1},{"g":"NPI_Group=NPI: Poor","t":115,"s":0.3,"c":1},{"g":"NPI_Group=NPI: Poor","t":120,"s":0.29,"c":0},{"g":"NPI_Group=NPI: Poor","t":125,"s":0.275,"c":1},{"g":"NPI_Group=NPI: Poor","t":130,"s":0.25,"c":0},{"g":"NPI_Group=NPI: Poor","t":133,"s":0.235,"c":1},{"g":"NPI_Group=NPI: Poor","t":140,"s":0.225,"c":1},{"g":"NPI_Group=NPI: Poor","t":145,"s":0.215,"c":1},{"g":"NPI_Group=NPI: Poor","t":160,"s":0.205,"c":1},{"g":"NPI_Group=NPI: Poor","t":175,"s":0.19,"c":1},{"g":"NPI_Group=NPI: Poor","t":185,"s":0.18,"c":1},{"g":"NPI_Group=NPI: Poor","t":200,"s":0.178,"c":1},{"g":"NPI_Group=NPI: Poor","t":215,"s":0.175,"c":1},{"g":"NPI_Group=NPI: Poor","t":228,"s":0.17,"c":0},{"g":"NPI_Group=NPI: Poor","t":240,"s":0.16,"c":1},{"g":"NPI_Group=NPI: Poor","t":257,"s":0.112,"c":0},{"g":"NPI_Group=NPI: Poor","t":270,"s":0.112,"c":1},{"g":"NPI_Group=NPI: Poor","t":285,"s":0.112,"c":1},{"g":"NPI_Group=NPI: Poor","t":299,"s":0,"c":0}
],
"bandC": [
{"g":"NPI_Group=NPI: Good","t":0,"lo":1,"hi":1},{"g":"NPI_Group=NPI: Good","t":10,"lo":0.995,"hi":1},{"g":"NPI_Group=NPI: Good","t":20,"lo":0.98,"hi":1},{"g":"NPI_Group=NPI: Good","t":30,"lo":0.96,"hi":0.99},{"g":"NPI_Group=NPI: Good","t":40,"lo":0.942,"hi":0.978},{"g":"NPI_Group=NPI: Good","t":50,"lo":0.925,"hi":0.965},{"g":"NPI_Group=NPI: Good","t":60,"lo":0.905,"hi":0.955},{"g":"NPI_Group=NPI: Good","t":70,"lo":0.882,"hi":0.938},{"g":"NPI_Group=NPI: Good","t":80,"lo":0.853,"hi":0.917},{"g":"NPI_Group=NPI: Good","t":90,"lo":0.825,"hi":0.895},{"g":"NPI_Group=NPI: Good","t":100,"lo":0.792,"hi":0.868},{"g":"NPI_Group=NPI: Good","t":110,"lo":0.76,"hi":0.84},{"g":"NPI_Group=NPI: Good","t":120,"lo":0.728,"hi":0.812},{"g":"NPI_Group=NPI: Good","t":130,"lo":0.696,"hi":0.784},{"g":"NPI_Group=NPI: Good","t":140,"lo":0.664,"hi":0.756},{"g":"NPI_Group=NPI: Good","t":150,"lo":0.638,"hi":0.732},{"g":"NPI_Group=NPI: Good","t":160,"lo":0.617,"hi":0.713},{"g":"NPI_Group=NPI: Good","t":170,"lo":0.6,"hi":0.7},{"g":"NPI_Group=NPI: Good","t":180,"lo":0.573,"hi":0.677},{"g":"NPI_Group=NPI: Good","t":190,"lo":0.545,"hi":0.655},{"g":"NPI_Group=NPI: Good","t":200,"lo":0.508,"hi":0.622},{"g":"NPI_Group=NPI: Good","t":210,"lo":0.46,"hi":0.58},{"g":"NPI_Group=NPI: Good","t":220,"lo":0.418,"hi":0.542},{"g":"NPI_Group=NPI: Good","t":230,"lo":0.385,"hi":0.515},{"g":"NPI_Group=NPI: Good","t":240,"lo":0.335,"hi":0.475},{"g":"NPI_Group=NPI: Good","t":265,"lo":0.27,"hi":0.435},{"g":"NPI_Group=NPI: Good","t":297,"lo":0.08,"hi":0.53},{"g":"NPI_Group=NPI: Good","t":335,"lo":0,"hi":0},
{"g":"NPI_Group=NPI: Moderate","t":0,"lo":1,"hi":1},{"g":"NPI_Group=NPI: Moderate","t":10,"lo":0.978,"hi":0.992},{"g":"NPI_Group=NPI: Moderate","t":20,"lo":0.94,"hi":0.96},{"g":"NPI_Group=NPI: Moderate","t":30,"lo":0.898,"hi":0.922},{"g":"NPI_Group=NPI: Moderate","t":40,"lo":0.851,"hi":0.879},{"g":"NPI_Group=NPI: Moderate","t":50,"lo":0.805,"hi":0.835},{"g":"NPI_Group=NPI: Moderate","t":60,"lo":0.769,"hi":0.801},{"g":"NPI_Group=NPI: Moderate","t":70,"lo":0.738,"hi":0.772},{"g":"NPI_Group=NPI: Moderate","t":80,"lo":0.707,"hi":0.743},{"g":"NPI_Group=NPI: Moderate","t":90,"lo":0.682,"hi":0.718},{"g":"NPI_Group=NPI: Moderate","t":100,"lo":0.656,"hi":0.694},{"g":"NPI_Group=NPI: Moderate","t":110,"lo":0.631,"hi":0.669},{"g":"NPI_Group=NPI: Moderate","t":120,"lo":0.605,"hi":0.645},{"g":"NPI_Group=NPI: Moderate","t":130,"lo":0.58,"hi":0.62},{"g":"NPI_Group=NPI: Moderate","t":140,"lo":0.55,"hi":0.59},{"g":"NPI_Group=NPI: Moderate","t":150,"lo":0.499,"hi":0.541},{"g":"NPI_Group=NPI: Moderate","t":160,"lo":0.459,"hi":0.501},{"g":"NPI_Group=NPI: Moderate","t":170,"lo":0.438,"hi":0.482},{"g":"NPI_Group=NPI: Moderate","t":180,"lo":0.422,"hi":0.468},{"g":"NPI_Group=NPI: Moderate","t":190,"lo":0.406,"hi":0.454},{"g":"NPI_Group=NPI: Moderate","t":200,"lo":0.385,"hi":0.435},{"g":"NPI_Group=NPI: Moderate","t":210,"lo":0.364,"hi":0.416},{"g":"NPI_Group=NPI: Moderate","t":220,"lo":0.343,"hi":0.397},{"g":"NPI_Group=NPI: Moderate","t":230,"lo":0.317,"hi":0.373},{"g":"NPI_Group=NPI: Moderate","t":240,"lo":0.285,"hi":0.345},{"g":"NPI_Group=NPI: Moderate","t":250,"lo":0.253,"hi":0.317},{"g":"NPI_Group=NPI: Moderate","t":260,"lo":0.216,"hi":0.284},{"g":"NPI_Group=NPI: Moderate","t":270,"lo":0.184,"hi":0.256},{"g":"NPI_Group=NPI: Moderate","t":280,"lo":0.162,"hi":0.238},{"g":"NPI_Group=NPI: Moderate","t":290,"lo":0.12,"hi":0.2},{"g":"NPI_Group=NPI: Moderate","t":299,"lo":0.02,"hi":0.2},{"g":"NPI_Group=NPI: Moderate","t":352,"lo":0,"hi":0},
{"g":"NPI_Group=NPI: Poor","t":0,"lo":1,"hi":1},{"g":"NPI_Group=NPI: Poor","t":10,"lo":0.965,"hi":0.995},{"g":"NPI_Group=NPI: Poor","t":15,"lo":0.905,"hi":0.955},{"g":"NPI_Group=NPI: Poor","t":20,"lo":0.835,"hi":0.905},{"g":"NPI_Group=NPI: Poor","t":30,"lo":0.735,"hi":0.825},{"g":"NPI_Group=NPI: Poor","t":40,"lo":0.62,"hi":0.72},{"g":"NPI_Group=NPI: Poor","t":50,"lo":0.49,"hi":0.6},{"g":"NPI_Group=NPI: Poor","t":60,"lo":0.445,"hi":0.555},{"g":"NPI_Group=NPI: Poor","t":70,"lo":0.395,"hi":0.505},{"g":"NPI_Group=NPI: Poor","t":80,"lo":0.345,"hi":0.455},{"g":"NPI_Group=NPI: Poor","t":90,"lo":0.295,"hi":0.405},{"g":"NPI_Group=NPI: Poor","t":100,"lo":0.265,"hi":0.375},{"g":"NPI_Group=NPI: Poor","t":115,"lo":0.245,"hi":0.355},{"g":"NPI_Group=NPI: Poor","t":125,"lo":0.22,"hi":0.33},{"g":"NPI_Group=NPI: Poor","t":133,"lo":0.18,"hi":0.29},{"g":"NPI_Group=NPI: Poor","t":145,"lo":0.16,"hi":0.27},{"g":"NPI_Group=NPI: Poor","t":160,"lo":0.15,"hi":0.26},{"g":"NPI_Group=NPI: Poor","t":185,"lo":0.125,"hi":0.235},{"g":"NPI_Group=NPI: Poor","t":228,"lo":0.115,"hi":0.225},{"g":"NPI_Group=NPI: Poor","t":257,"lo":0.06,"hi":0.165},{"g":"NPI_Group=NPI: Poor","t":299,"lo":0,"hi":0}
],
"medC": [{"t":0,"t2":213,"s":0.5,"s2":0.5},{"t":60,"t2":60,"s":0,"s2":0.5},{"t":152,"t2":152,"s":0,"s2":0.5},{"t":213,"t2":213,"s":0,"s2":0.5}],
"riskA": [
{"g":"Age_Group=Age< 65","t":0,"n":801},{"g":"Age_Group=Age< 65","t":50,"n":654},{"g":"Age_Group=Age< 65","t":100,"n":496},{"g":"Age_Group=Age< 65","t":150,"n":334},{"g":"Age_Group=Age< 65","t":200,"n":213},{"g":"Age_Group=Age< 65","t":250,"n":96},{"g":"Age_Group=Age< 65","t":300,"n":7},{"g":"Age_Group=Age< 65","t":350,"n":1},{"g":"Age_Group=Age< 65","t":400,"n":0},
{"g":"Age_Group=Age≥ 65","t":0,"n":509},{"g":"Age_Group=Age≥ 65","t":50,"n":388},{"g":"Age_Group=Age≥ 65","t":100,"n":258},{"g":"Age_Group=Age≥ 65","t":150,"n":150},{"g":"Age_Group=Age≥ 65","t":200,"n":67},{"g":"Age_Group=Age≥ 65","t":250,"n":18},{"g":"Age_Group=Age≥ 65","t":300,"n":2},{"g":"Age_Group=Age≥ 65","t":350,"n":0},{"g":"Age_Group=Age≥ 65","t":400,"n":0}
],
"riskB": [
{"g":"HER2.Status=HER2 Negative","t":0,"n":1149},{"g":"HER2.Status=HER2 Negative","t":50,"n":940},{"g":"HER2.Status=HER2 Negative","t":100,"n":690},{"g":"HER2.Status=HER2 Negative","t":150,"n":447},{"g":"HER2.Status=HER2 Negative","t":200,"n":260},{"g":"HER2.Status=HER2 Negative","t":250,"n":107},{"g":"HER2.Status=HER2 Negative","t":300,"n":8},{"g":"HER2.Status=HER2 Negative","t":350,"n":1},{"g":"HER2.Status=HER2 Negative","t":400,"n":0},
{"g":"HER2.Status=HER2 Positive","t":0,"n":161},{"g":"HER2.Status=HER2 Positive","t":50,"n":102},{"g":"HER2.Status=HER2 Positive","t":100,"n":64},{"g":"HER2.Status=HER2 Positive","t":150,"n":37},{"g":"HER2.Status=HER2 Positive","t":200,"n":20},{"g":"HER2.Status=HER2 Positive","t":250,"n":7},{"g":"HER2.Status=HER2 Positive","t":300,"n":1},{"g":"HER2.Status=HER2 Positive","t":350,"n":0},{"g":"HER2.Status=HER2 Positive","t":400,"n":0}
],
"riskC": [
{"g":"NPI_Group=NPI:Good","t":0,"n":397},{"g":"NPI_Group=NPI:Good","t":50,"n":366},{"g":"NPI_Group=NPI:Good","t":100,"n":279},{"g":"NPI_Group=NPI:Good","t":150,"n":191},{"g":"NPI_Group=NPI:Good","t":200,"n":121},{"g":"NPI_Group=NPI:Good","t":250,"n":53},{"g":"NPI_Group=NPI:Good","t":300,"n":2},{"g":"NPI_Group=NPI:Good","t":350,"n":0},{"g":"NPI_Group=NPI:Good","t":400,"n":0},
{"g":"NPI_Group=NPI:Moderate","t":0,"n":775},{"g":"NPI_Group=NPI:Moderate","t":50,"n":602},{"g":"NPI_Group=NPI:Moderate","t":100,"n":433},{"g":"NPI_Group=NPI:Moderate","t":150,"n":276},{"g":"NPI_Group=NPI:Moderate","t":200,"n":152},{"g":"NPI_Group=NPI:Moderate","t":250,"n":57},{"g":"NPI_Group=NPI:Moderate","t":300,"n":6},{"g":"NPI_Group=NPI:Moderate","t":350,"n":1},{"g":"NPI_Group=NPI:Moderate","t":400,"n":0},
{"g":"NPI_Group=NPI:Poor","t":0,"n":138},{"g":"NPI_Group=NPI:Poor","t":50,"n":74},{"g":"NPI_Group=NPI:Poor","t":100,"n":42},{"g":"NPI_Group=NPI:Poor","t":150,"n":17},{"g":"NPI_Group=NPI:Poor","t":200,"n":7},{"g":"NPI_Group=NPI:Poor","t":250,"n":4},{"g":"NPI_Group=NPI:Poor","t":300,"n":1},{"g":"NPI_Group=NPI:Poor","t":350,"n":0},{"g":"NPI_Group=NPI:Poor","t":400,"n":0}
]
},
"vconcat": [
{"hconcat": [
{"vconcat": [
{"width": 349, "height": 141,
 "title": {"text": "A. Age at Diagnosis Group (<65 vs. >=65 years)", "anchor": "middle", "frame": "group", "fontSize": 10, "offset": 8},
 "encoding": {
  "x": {"field": "t", "type": "quantitative", "title": "Months", "scale": {"domain": [-20, 420], "nice": false},
        "axis": {"values": [0,25,50,75,100,125,150,175,200,225,250,275,300,325,350,375,400], "labelExpr": "datum.value % 50 == 0 ? datum.label : ''", "labelPadding": 1, "titlePadding": 0,
                 "encode": {"ticks": {"update": {"strokeOpacity": {"signal": "datum.value % 50 == 0 ? 1 : 0"}}}, "grid": {"update": {"strokeWidth": {"signal": "datum.value % 50 == 0 ? 1 : 0.5"}}}}}},
  "y": {"field": "s", "type": "quantitative", "title": "Survival probability", "scale": {"domain": [-0.05, 1.05], "nice": false, "zero": false},
        "axis": {"values": [0,0.125,0.25,0.375,0.5,0.625,0.75,0.875,1], "format": ".2f", "labelExpr": "datum.value % 0.25 == 0 ? datum.label : ''", "minExtent": 19, "maxExtent": 19, "titlePadding": 2,
                 "encode": {"ticks": {"update": {"strokeOpacity": {"signal": "datum.value % 0.25 == 0 ? 1 : 0"}}}, "grid": {"update": {"strokeWidth": {"signal": "datum.value % 0.25 == 0 ? 1 : 0.5"}}}}}}
 },
 "layer": [
  {"data": {"name": "lineA"}, "mark": {"type": "line", "interpolate": "step-after", "strokeWidth": 1.3},
   "encoding": {"color": {"field": "g", "type": "nominal", "scale": {"domain": ["Age_Group=Age < 65", "Age_Group=Age ≥ 65"], "range": ["#4F8DF2", "#F43F5E"]}, "legend": {"title": "Age Group", "orient": "top", "direction": "horizontal", "titleOrient": "left", "symbolType": "M-1,0L1,0M0,-0.7L0,0.7", "symbolStrokeWidth": 1.3, "symbolSize": 120, "labelFontSize": 7, "titleFontSize": 9, "titleFontWeight": "normal", "offset": 15, "columnPadding": 8}}}},
  {"data": {"name": "bandA"}, "mark": {"type": "area", "interpolate": "step-after", "fillOpacity": 0.15},
   "encoding": {"y": {"field": "lo", "type": "quantitative", "title": "Survival probability"}, "y2": {"field": "hi"},
     "fill": {"field": "g", "type": "nominal", "scale": {"domain": ["Age_Group=Age < 65", "Age_Group=Age ≥ 65"], "range": ["#4F8DF2", "#F43F5E"]}, "legend": null}}},
  {"data": {"name": "lineA"}, "transform": [{"filter": "datum.c == 1"}], "mark": {"type": "point", "shape": "M-1,0L1,0M0,-1L0,1", "filled": false, "size": 14, "strokeWidth": 1, "opacity": 1},
   "encoding": {"stroke": {"field": "g", "type": "nominal", "scale": {"domain": ["Age_Group=Age < 65", "Age_Group=Age ≥ 65"], "range": ["#4F8DF2", "#F43F5E"]}, "legend": null}}},
  {"data": {"name": "medA"}, "mark": {"type": "rule", "color": "#000000", "strokeDash": [3, 3], "strokeWidth": 0.8},
   "encoding": {"x2": {"field": "t2"}, "y2": {"field": "s2"}}},
  {"data": {"values": [{"t": 6, "s": 0.2, "label": "Log-rank p < 0.001"}]}, "mark": {"type": "text", "align": "left", "fontSize": 7, "color": "#000000"},
   "encoding": {"text": {"field": "label"}}}
 ]},
{"width": 349, "height": 20, "data": {"name": "riskA"},
 "title": {"text": "Number at risk", "anchor": "start", "frame": "group", "fontSize": 10.5, "offset": -8, "dx": 54},
 "mark": {"type": "text", "fontSize": 7, "color": "#000000"},
 "encoding": {
  "x": {"field": "t", "type": "quantitative", "title": "Months", "scale": {"domain": [-98.5, 422.4], "nice": false},
        "axis": {"values": [0,25,50,75,100,125,150,175,200,225,250,275,300,325,350,375,400], "labelExpr": "datum.value % 50 == 0 ? datum.label : ''", "ticks": false, "labelPadding": 8, "titlePadding": 2, "gridColor": "#f0f0f0"}},
  "y": {"field": "g", "type": "nominal", "title": "Age Group", "sort": ["Age_Group=Age< 65", "Age_Group=Age≥ 65"], "scale": {"type": "point", "padding": 0.6},
        "axis": {"labelFontSize": 8, "offset": -53, "minExtent": 73, "maxExtent": 73, "tickSize": 2, "labelLimit": 200, "gridColor": "#f0f0f0", "titlePadding": 0,
                 "encode": {"labels": {"update": {"fill": {"signal": "datum.value == 'Age_Group=Age< 65' ? '#4F8DF2' : '#F43F5E'"}}}}}},
  "text": {"field": "n", "type": "quantitative"}
 }}
], "spacing": 11, "resolve": {"scale": {"color": "independent", "fill": "independent", "stroke": "independent"}}},
{"vconcat": [
{"width": 349, "height": 141,
 "title": {"text": "B. HER2 Status (Positive vs Negative)", "anchor": "middle", "frame": "group", "fontSize": 10, "offset": 8},
 "encoding": {
  "x": {"field": "t", "type": "quantitative", "title": "Months", "scale": {"domain": [-20, 420], "nice": false},
        "axis": {"values": [0,25,50,75,100,125,150,175,200,225,250,275,300,325,350,375,400], "labelExpr": "datum.value % 50 == 0 ? datum.label : ''", "labelPadding": 1, "titlePadding": 0,
                 "encode": {"ticks": {"update": {"strokeOpacity": {"signal": "datum.value % 50 == 0 ? 1 : 0"}}}, "grid": {"update": {"strokeWidth": {"signal": "datum.value % 50 == 0 ? 1 : 0.5"}}}}}},
  "y": {"field": "s", "type": "quantitative", "title": "Survival probability", "scale": {"domain": [-0.05, 1.05], "nice": false, "zero": false},
        "axis": {"values": [0,0.125,0.25,0.375,0.5,0.625,0.75,0.875,1], "format": ".2f", "labelExpr": "datum.value % 0.25 == 0 ? datum.label : ''", "minExtent": 19, "maxExtent": 19, "titlePadding": 2,
                 "encode": {"ticks": {"update": {"strokeOpacity": {"signal": "datum.value % 0.25 == 0 ? 1 : 0"}}}, "grid": {"update": {"strokeWidth": {"signal": "datum.value % 0.25 == 0 ? 1 : 0.5"}}}}}}
 },
 "layer": [
  {"data": {"name": "lineB"}, "mark": {"type": "line", "interpolate": "step-after", "strokeWidth": 1.3},
   "encoding": {"color": {"field": "g", "type": "nominal", "scale": {"domain": ["HER2.Status=HER2 Negative", "HER2.Status=HER2 Positive"], "range": ["#4F8DF2", "#F43F5E"]}, "legend": {"title": "HER2 Status", "orient": "top", "direction": "horizontal", "titleOrient": "left", "symbolType": "M-1,0L1,0M0,-0.7L0,0.7", "symbolStrokeWidth": 1.3, "symbolSize": 120, "labelFontSize": 7, "titleFontSize": 9, "titleFontWeight": "normal", "offset": 15, "columnPadding": 8}}}},
  {"data": {"name": "bandB"}, "mark": {"type": "area", "interpolate": "step-after", "fillOpacity": 0.15},
   "encoding": {"y": {"field": "lo", "type": "quantitative", "title": "Survival probability"}, "y2": {"field": "hi"},
     "fill": {"field": "g", "type": "nominal", "scale": {"domain": ["HER2.Status=HER2 Negative", "HER2.Status=HER2 Positive"], "range": ["#4F8DF2", "#F43F5E"]}, "legend": null}}},
  {"data": {"name": "lineB"}, "transform": [{"filter": "datum.c == 1"}], "mark": {"type": "point", "shape": "M-1,0L1,0M0,-1L0,1", "filled": false, "size": 14, "strokeWidth": 1, "opacity": 1},
   "encoding": {"stroke": {"field": "g", "type": "nominal", "scale": {"domain": ["HER2.Status=HER2 Negative", "HER2.Status=HER2 Positive"], "range": ["#4F8DF2", "#F43F5E"]}, "legend": null}}},
  {"data": {"name": "medB"}, "mark": {"type": "rule", "color": "#000000", "strokeDash": [3, 3], "strokeWidth": 0.8},
   "encoding": {"x2": {"field": "t2"}, "y2": {"field": "s2"}}},
  {"data": {"values": [{"t": 6, "s": 0.2, "label": "Log-rank p = < 0.001"}]}, "mark": {"type": "text", "align": "left", "fontSize": 7, "color": "#000000"},
   "encoding": {"text": {"field": "label"}}}
 ]},
{"width": 349, "height": 20, "data": {"name": "riskB"},
 "title": {"text": "Number at risk", "anchor": "start", "frame": "group", "fontSize": 10.5, "offset": -8, "dx": 78},
 "mark": {"type": "text", "fontSize": 7, "color": "#000000"},
 "encoding": {
  "x": {"field": "t", "type": "quantitative", "title": "Months", "scale": {"domain": [-145.9, 426.2], "nice": false},
        "axis": {"values": [0,25,50,75,100,125,150,175,200,225,250,275,300,325,350,375,400], "labelExpr": "datum.value % 50 == 0 ? datum.label : ''", "ticks": false, "labelPadding": 8, "titlePadding": 2, "gridColor": "#f0f0f0"}},
  "y": {"field": "g", "type": "nominal", "title": "HER2 Status", "sort": ["HER2.Status=HER2 Negative", "HER2.Status=HER2 Positive"], "scale": {"type": "point", "padding": 0.6},
        "axis": {"labelFontSize": 7, "offset": -77, "minExtent": 98, "maxExtent": 98, "tickSize": 2, "labelLimit": 200, "gridColor": "#f0f0f0", "titlePadding": 0,
                 "encode": {"labels": {"update": {"fill": {"signal": "datum.value == 'HER2.Status=HER2 Negative' ? '#4F8DF2' : '#F43F5E'"}}}}}},
  "text": {"field": "n", "type": "quantitative"}
 }}
], "spacing": 11, "resolve": {"scale": {"color": "independent", "fill": "independent", "stroke": "independent"}}}
], "spacing": 7, "resolve": {"scale": {"color": "independent", "fill": "independent", "stroke": "independent"}}},
{"vconcat": [
{"width": 349, "height": 141,
 "title": {"text": "C. NPI Group (Good vs Moderate vs Poor)", "anchor": "middle", "frame": "group", "fontSize": 10, "offset": 8},
 "encoding": {
  "x": {"field": "t", "type": "quantitative", "title": "Months", "scale": {"domain": [-20, 420], "nice": false},
        "axis": {"values": [0,25,50,75,100,125,150,175,200,225,250,275,300,325,350,375,400], "labelExpr": "datum.value % 50 == 0 ? datum.label : ''", "labelPadding": 1, "titlePadding": 0,
                 "encode": {"ticks": {"update": {"strokeOpacity": {"signal": "datum.value % 50 == 0 ? 1 : 0"}}}, "grid": {"update": {"strokeWidth": {"signal": "datum.value % 50 == 0 ? 1 : 0.5"}}}}}},
  "y": {"field": "s", "type": "quantitative", "title": "Survival probability", "scale": {"domain": [-0.05, 1.05], "nice": false, "zero": false},
        "axis": {"values": [0,0.125,0.25,0.375,0.5,0.625,0.75,0.875,1], "format": ".2f", "labelExpr": "datum.value % 0.25 == 0 ? datum.label : ''", "minExtent": 19, "maxExtent": 19, "titlePadding": 2,
                 "encode": {"ticks": {"update": {"strokeOpacity": {"signal": "datum.value % 0.25 == 0 ? 1 : 0"}}}, "grid": {"update": {"strokeWidth": {"signal": "datum.value % 0.25 == 0 ? 1 : 0.5"}}}}}}
 },
 "layer": [
  {"data": {"name": "lineC"}, "mark": {"type": "line", "interpolate": "step-after", "strokeWidth": 1.3},
   "encoding": {"color": {"field": "g", "type": "nominal", "scale": {"domain": ["NPI_Group=NPI: Good", "NPI_Group=NPI: Moderate", "NPI_Group=NPI: Poor"], "range": ["#4F8DF2", "#F9C440", "#F43F5E"]}, "legend": {"title": "NPI Group", "orient": "top", "direction": "horizontal", "titleOrient": "left", "symbolType": "M-1,0L1,0M0,-0.7L0,0.7", "symbolStrokeWidth": 1.3, "symbolSize": 120, "labelFontSize": 7, "titleFontSize": 9, "titleFontWeight": "normal", "offset": 15, "columnPadding": 8}}}},
  {"data": {"name": "bandC"}, "mark": {"type": "area", "interpolate": "step-after", "fillOpacity": 0.15},
   "encoding": {"y": {"field": "lo", "type": "quantitative", "title": "Survival probability"}, "y2": {"field": "hi"},
     "fill": {"field": "g", "type": "nominal", "scale": {"domain": ["NPI_Group=NPI: Good", "NPI_Group=NPI: Moderate", "NPI_Group=NPI: Poor"], "range": ["#4F8DF2", "#F9C440", "#F43F5E"]}, "legend": null}}},
  {"data": {"name": "lineC"}, "transform": [{"filter": "datum.c == 1"}], "mark": {"type": "point", "shape": "M-1,0L1,0M0,-1L0,1", "filled": false, "size": 14, "strokeWidth": 1, "opacity": 1},
   "encoding": {"stroke": {"field": "g", "type": "nominal", "scale": {"domain": ["NPI_Group=NPI: Good", "NPI_Group=NPI: Moderate", "NPI_Group=NPI: Poor"], "range": ["#4F8DF2", "#F9C440", "#F43F5E"]}, "legend": null}}},
  {"data": {"name": "medC"}, "mark": {"type": "rule", "color": "#000000", "strokeDash": [3, 3], "strokeWidth": 0.8},
   "encoding": {"x2": {"field": "t2"}, "y2": {"field": "s2"}}},
  {"data": {"values": [{"t": 6, "s": 0.2, "label": "Log-rank p = < 0.001"}]}, "mark": {"type": "text", "align": "left", "fontSize": 7, "color": "#000000"},
   "encoding": {"text": {"field": "label"}}}
 ]},
{"width": 349, "height": 26, "data": {"name": "riskC"},
 "title": {"text": "Number at risk", "anchor": "start", "frame": "group", "fontSize": 10.5, "offset": -4.5, "dx": 69},
 "mark": {"type": "text", "fontSize": 7, "color": "#000000"},
 "encoding": {
  "x": {"field": "t", "type": "quantitative", "title": "Months", "scale": {"domain": [-128.1, 423.7], "nice": false},
        "axis": {"values": [0,25,50,75,100,125,150,175,200,225,250,275,300,325,350,375,400], "labelExpr": "datum.value % 50 == 0 ? datum.label : ''", "ticks": false, "labelPadding": 3, "titlePadding": 2, "gridColor": "#f0f0f0"}},
  "y": {"field": "g", "type": "nominal", "title": "NPI Group", "sort": ["NPI_Group=NPI:Good", "NPI_Group=NPI:Moderate", "NPI_Group=NPI:Poor"], "scale": {"type": "point", "padding": 0.6},
        "axis": {"labelFontSize": 7.5, "offset": -68, "minExtent": 88, "maxExtent": 88, "tickSize": 2, "labelLimit": 200, "gridColor": "#f0f0f0", "titlePadding": 0,
                 "encode": {"labels": {"update": {"fill": {"signal": "datum.value == 'NPI_Group=NPI:Good' ? '#4F8DF2' : datum.value == 'NPI_Group=NPI:Moderate' ? '#F9C440' : '#F43F5E'"}}}}}},
  "text": {"field": "n", "type": "quantitative"}
 }}
], "spacing": 11, "resolve": {"scale": {"color": "independent", "fill": "independent", "stroke": "independent"}}}
],
"spacing": 6,
"resolve": {"scale": {"color": "independent", "fill": "independent", "stroke": "independent"}},
"config": {
 "font": "Liberation Sans",
 "view": {"stroke": null},
 "axis": {"domain": false, "labelColor": "#4d4d4d", "labelFontSize": 7, "titleFontSize": 9, "titleFontWeight": "normal", "titleColor": "#1a1a1a", "tickColor": "#333333", "tickSize": 3, "gridColor": "#ebebeb", "labelPadding": 2},
 "title": {"fontWeight": "normal", "color": "#1a1a1a"},
 "legend": {"layout": {"top": {"anchor": "middle"}}}
}
}
